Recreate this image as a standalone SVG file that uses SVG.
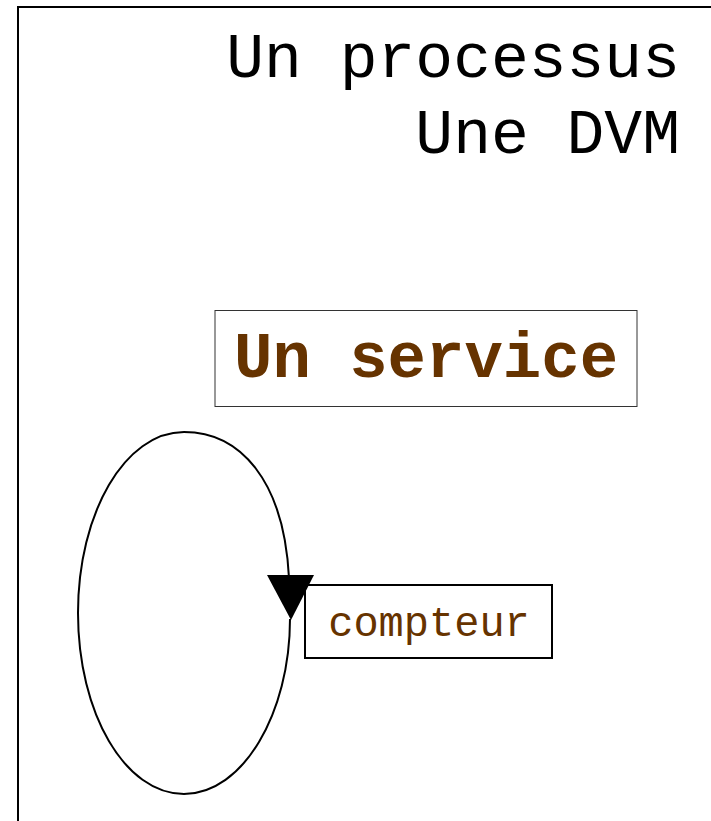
<svg xmlns="http://www.w3.org/2000/svg" width="711" height="821" viewBox="0 0 711 821">
  <style>
    .mono { font-family: "Liberation Mono", "Courier New", monospace; }
    .title { font-size: 63px; fill: #000; }
    .label { fill: #663300; }
    .edge { fill: none; stroke: #000; stroke-width: 2; }
  </style>
  <rect width="711" height="821" fill="#fff"/>

  <!-- process frame (runs past the right and bottom edges) -->
  <g id="process">
    <rect x="18" y="7" width="720" height="840" fill="none" stroke="#000" stroke-width="2"/>
    <text class="mono title" x="680" y="77" text-anchor="end">Un processus</text>
    <text class="mono title" x="680" y="153" text-anchor="end">Une DVM</text>
  </g>

  <g id="service">
    <rect x="215" y="310.5" width="422" height="96" fill="#fff" stroke="#333" stroke-width="1"/>
    <text class="mono label" x="426" y="377" font-size="64" font-weight="bold" text-anchor="middle">Un service</text>
  </g>

  <g id="counter">
    <rect x="305" y="585" width="247" height="73" fill="#fff" stroke="#000" stroke-width="2"/>
    <text class="mono label" x="429" y="636" font-size="42" text-anchor="middle">compteur</text>
  </g>

  <!-- self loop -->
  <g id="connectors">
    <path class="edge" d="M289,578 C284,480 240,432 184,432 C125,432 78,513 78,613 C78,713 125,794 184,794 C243,794 290,713 290,619"/>
    <polygon points="267,575 314,575 291,620" fill="#000"/>
  </g>
</svg>
